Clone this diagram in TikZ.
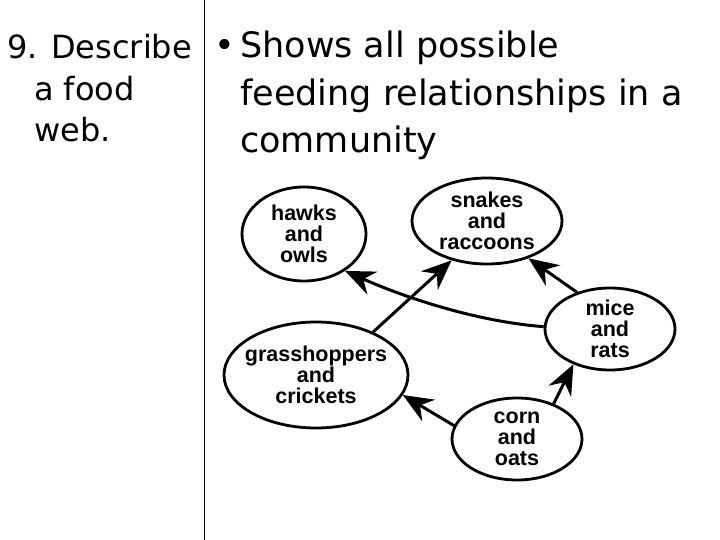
\documentclass[tikz,border=0pt]{standalone}
\usepackage{fontspec}
\setmainfont{DejaVu Sans}
\newfontfamily\webfont{Liberation Sans}
\usetikzlibrary{arrows.meta,shapes.geometric}
\tikzset{
  title/.style={anchor=base west, inner sep=0pt, font=\fontsize{35}{40}\selectfont},
  lefttext/.style={anchor=base west, inner sep=0pt, font=\fontsize{32}{37}\selectfont},
  organism/.style={draw, ellipse, line width=2.8pt, inner sep=-10pt, align=center,
    font=\webfont\bfseries\fontsize{21.5}{21}\selectfont},
  eats/.style={line width=3pt, -{Stealth[length=30pt,width=25pt,inset=10pt]}}
}
\begin{document}
\begin{tikzpicture}[x=1pt,y=-1pt]
\useasboundingbox (0,0) rectangle (720,540);
\coordinate (divtop) at (204,0);
\coordinate (divbot) at (204,540);
\draw[line width=0.8pt] (divtop) -- (divbot);

\node[lefttext] (q1) at (7,59) {9. Describe};
\node[lefttext] (q2) at (34,101) {a food};
\node[lefttext] (q3) at (34,142) {web.};

\node[title] (bul) at (214,58) {\textbullet};
\node[title] (t1) at (240,58) {Shows all possible};
\node[title] (t2) at (240,106) {feeding relationships in a};
\node[title] (t3) at (240,153) {community};

\node[organism, minimum width=124pt, minimum height=94pt] (hawks) at (304,234) {hawks\\and\\owls};
\node[organism, minimum width=150pt, minimum height=86pt] (snakes) at (487,221) {snakes\\and\\raccoons};
\node[organism, minimum width=130pt, minimum height=82pt] (mice) at (610,329) {mice\\and\\rats};
\node[organism, minimum width=184pt, minimum height=106pt] (grass) at (316,375) {grasshoppers\\and\\crickets};
\node[organism, minimum width=130pt, minimum height=82pt] (corn) at (517,439) {corn\\and\\oats};

\draw[eats] (corn.168) -- (grass.347);
\draw[eats] (corn.44) -- (mice.224);
\draw[eats] (grass.37) -- (snakes.228);
\draw[eats] (mice.132) -- (snakes.318);
\draw[eats] (mice.178) .. controls +(-65,-5) and +(63,28) .. (hawks.318);
\end{tikzpicture}
\end{document}
